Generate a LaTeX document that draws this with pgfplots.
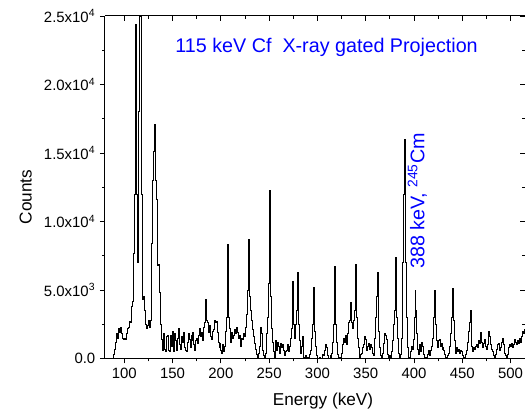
\documentclass[border=0pt]{standalone}
\usepackage{pgfplots}
\pgfplotsset{compat=1.18}
\usepackage{fontspec}
\setmainfont{Liberation Sans}
\definecolor{lblue}{RGB}{0,0,255}
\pgfplotstableread{
x y
87 0
88 0
89 300
90 700
91 1200
92 1800
93 1500
94 2200
95 1900
96 2300
97 1800
98 1500
99 1400
100 1500
101 1400
102 1800
103 2200
104 2300
105 2700
106 2600
107 3800
108 4200
109 7700
110 12000
111 17600
112 24400
113 12000
114 7000
115 18000
116 25000
117 25500
118 12000
119 4300
120 4500
121 3500
122 2500
123 2200
124 2400
125 2800
126 2300
127 2800
128 8400
129 13000
130 15100
131 17100
132 13000
133 11600
134 6800
135 6900
136 4800
137 2500
138 1400
139 600
140 1100
141 1800
142 700
143 500
144 1600
145 1700
146 600
147 500
148 1700
149 900
150 2000
151 500
152 1800
153 1300
154 600
155 1500
156 2200
157 1000
158 700
159 1600
160 1200
161 1900
162 800
163 600
164 500
165 1200
166 1800
167 1400
168 800
169 1700
170 1300
171 1900
172 1000
173 600
174 1300
175 1500
176 1100
177 1700
178 2200
179 1600
180 1900
181 1300
182 2300
183 2600
184 4300
185 2800
186 2600
187 1900
188 2400
189 1600
190 1400
191 2000
192 2100
193 2800
194 2600
195 2700
196 1900
197 1200
198 800
199 1100
200 600
201 400
202 1000
203 500
204 900
205 2000
206 3000
207 8300
208 3000
209 2200
210 1200
211 1900
212 1500
213 1700
214 2100
215 1800
216 2300
217 1900
218 1500
219 1700
220 900
221 1500
222 1400
223 1800
224 1600
225 2300
226 3200
227 4300
228 5000
229 8700
230 4500
231 3500
232 2800
233 2100
234 1600
235 1100
236 700
237 300
238 100
239 400
240 900
241 2300
242 1800
243 600
244 200
245 100
246 400
247 1800
248 3000
249 5500
250 12300
251 4500
252 2200
253 1200
254 500
255 0
256 800
257 1300
258 600
259 1200
260 900
261 400
262 1100
263 800
264 1000
265 600
266 200
267 500
268 600
269 1000
270 500
271 900
272 1500
273 2200
274 5600
275 2500
276 1500
277 2500
278 3500
279 6300
280 2500
281 1300
282 400
283 900
284 1600
285 800
286 100
287 0
288 200
289 0
290 100
291 0
292 300
293 600
294 1500
295 2500
296 5200
297 2000
298 900
299 200
300 0
301 0
302 100
303 0
304 0
305 300
306 200
307 600
308 1000
309 800
310 200
311 0
312 0
313 200
314 100
315 400
316 1200
317 2500
318 6700
319 2500
320 1200
321 300
322 0
323 100
324 0
325 400
326 1000
327 1500
328 1200
329 1700
330 1000
331 1800
332 2600
333 2800
334 4100
335 2600
336 2200
337 2800
338 3500
339 6900
340 3000
341 1500
342 800
343 200
344 0
345 300
346 400
347 800
348 1000
349 1600
350 1400
351 600
352 900
353 1100
354 700
355 1000
356 800
357 400
358 200
359 1500
360 3000
361 4500
362 6300
363 2000
364 800
365 200
366 0
367 400
368 1100
369 1800
370 1700
371 1400
372 900
373 300
374 0
375 200
376 0
377 500
378 1300
379 2500
380 3500
381 7400
382 3000
383 1500
384 400
385 0
386 300
387 1500
388 7000
389 12000
390 16000
391 7000
392 3000
393 800
394 0
395 100
396 500
397 900
398 700
399 1400
400 3000
401 5000
402 3500
403 1800
404 700
405 300
406 1000
407 500
408 1200
409 900
410 300
411 0
412 100
413 0
414 300
415 600
416 200
417 600
418 900
419 1500
420 3000
421 5000
422 2500
423 1300
424 800
425 1300
426 1400
427 900
428 1100
429 700
430 800
431 600
432 300
433 100
434 0
435 200
436 400
437 900
438 1800
439 3000
440 5100
441 2800
442 1300
443 400
444 800
445 500
446 700
447 400
448 600
449 500
450 200
451 0
452 100
453 300
454 600
455 1200
456 2000
457 2600
458 3500
459 2000
460 900
461 500
462 800
463 700
464 900
465 1000
466 800
467 1300
468 1100
469 1900
470 1200
471 800
472 1100
473 1400
474 900
475 700
476 1000
477 2000
478 1600
479 1000
480 700
481 500
482 200
483 100
484 300
485 700
486 1000
487 1100
488 900
489 600
490 800
491 1200
492 1500
493 1000
494 400
495 200
496 0
497 300
498 800
499 1000
500 900
501 1100
502 800
503 1000
504 1400
505 1200
506 1000
507 1300
508 1100
509 1500
510 1200
511 1600
512 2000
513 1800
514 2100
515 1900
}\spectrum
\begin{document}
\begin{tikzpicture}
\pgfplotsset{
  common/.style={
    scale only axis, width=315pt, height=256.875pt,
    xmin=80, xmax=515, ymin=0, ymax=25000,
    xtick={100,150,...,500}, ytick={0,5000,...,25000},
    minor x tick num=1, minor y tick num=1,
    major tick length=3.75pt, minor tick length=2.2pt,
    every tick/.style={black, line width=0.6pt},
    axis line style={line width=0.75pt},
    scaled ticks=false,
    /pgf/number format/assume math mode=true,
    tick label style={font=\fontsize{11.2}{13}\selectfont},
  }
}
\begin{axis}[common,
  axis x line*=bottom, axis y line*=left, tick align=outside,
  axis line style={-, line width=0.75pt},
  yticklabels={0.0,{5.0x10\textsuperscript{3}},{1.0x10\textsuperscript{4}},{1.5x10\textsuperscript{4}},{2.0x10\textsuperscript{4}},{2.5x10\textsuperscript{4}}},
  xticklabels={100,150,200,250,300,350,400,450,500},
  xlabel={Energy (keV)}, ylabel={Counts},
  label style={font=\fontsize{12.9}{15}\selectfont},
  xlabel style={at={(axis description cs:0.519,-0.124)}, anchor=center},
  ylabel style={at={(axis description cs:-0.189,0.4715)}, anchor=center, rotate=0},
  clip=true,
]
\addplot[const plot, black, line width=0.6pt] table[x=x,y=y] {\spectrum};
\node[text=lblue, font=\fontsize{14.8}{17}\selectfont, anchor=center] at (axis cs:309.5,22675) {115 keV Cf\ \ X-ray gated Projection};
\node[text=lblue, font=\fontsize{14.8}{17}\selectfont, rotate=90, anchor=center] at (axis cs:403.5,11500) {388 keV, \textsuperscript{245}Cm};
\end{axis}
\begin{axis}[common,
  axis x line*=top, axis y line*=right, tick align=inside,
  axis line style={-, line width=0.75pt},
  xticklabels={}, yticklabels={},
]
\end{axis}
\pgfresetboundingbox
\path[use as bounding box] ([xshift=-78.75pt,yshift=-40.875pt]current axis.south west) rectangle ([yshift=12pt]current axis.north east);
\end{tikzpicture}
\end{document}
